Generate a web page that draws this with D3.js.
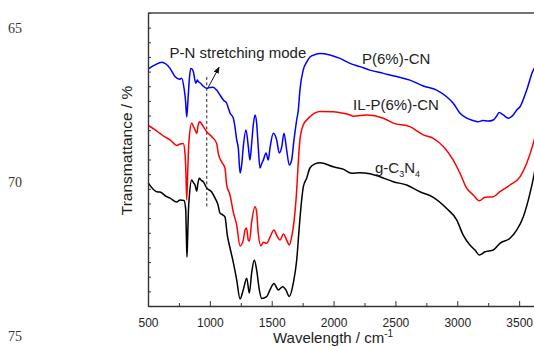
<!DOCTYPE html>
<html><head><meta charset="utf-8">
<script src="https://cdn.jsdelivr.net/npm/d3@7"></script>
<style>body{margin:0;background:#fff}svg{display:block}</style>
</head><body><div id="chart"></div>
<script>
// wavenumber (cm^-1) / transmittance (arbitrary %, offset spectra)
const seriesNames = ["P(6%)-CN", "IL-P(6%)-CN", "g-C3N4"];
const seriesColors = ["#0000ff", "#ff0000", "#000000"];
const bluePts = [[502,80.9],[557,82.3],[611,83.2],[645,82.6],[678,81.1],[718,78.3],[753,77.4],[772,77.7],[791,74.4],[803,70.3],[813,64.5],[823,70.3],[835,77.8],[845,81.1],[856,80.9],[866,80.0],[886,76.0],[898,77.1],[908,76.5],[920,76.2],[945,75.1],[974,74.3],[1001,74.6],[1025,74.7],[1055,73.7],[1082,72.0],[1109,70.3],[1136,69.2],[1149,67.6],[1163,65.9],[1189,64.2],[1203,61.1],[1217,56.7],[1230,53.9],[1244,45.4],[1257,48.1],[1270,54.3],[1292,60.1],[1311,54.3],[1324,49.8],[1338,55.6],[1351,61.8],[1365,65.2],[1378,62.5],[1391,54.3],[1405,47.1],[1421,48.8],[1432,49.8],[1454,52.2],[1472,49.8],[1486,53.9],[1513,59.0],[1540,56.7],[1561,52.2],[1581,54.3],[1599,59.0],[1621,53.2],[1642,48.1],[1661,49.8],[1680,56.7],[1702,63.5],[1715,66.9],[1728,73.7],[1755,80.6],[1783,83.3],[1809,85.0],[1850,85.8],[1890,86.2],[1971,85.7],[2052,84.5],[2133,82.8],[2213,81.7],[2294,80.5],[2402,79.4],[2510,78.3],[2617,77.1],[2725,75.1],[2833,73.7],[2914,71.4],[2967,69.2],[3022,65.8],[3076,64.1],[3129,63.3],[3167,62.9],[3207,63.3],[3248,63.1],[3291,63.5],[3313,64.5],[3339,66.0],[3372,65.2],[3412,64.1],[3452,65.2],[3480,66.9],[3507,68.0],[3561,73.7],[3614,80.5],[3630,81.5]];
const redPts = [[502,61.6],[548,60.4],[597,58.9],[637,57.7],[678,56.7],[732,54.8],[759,55.3],[785,55.5],[799,52.2],[807,44.7],[813,36.2],[819,43.0],[827,53.2],[834,57.8],[853,62.4],[866,61.4],[880,60.1],[894,58.9],[904,61.4],[915,62.9],[928,62.5],[947,61.2],[974,59.5],[1015,57.8],[1055,55.5],[1068,52.1],[1096,49.1],[1122,47.1],[1136,41.3],[1163,37.9],[1189,32.1],[1217,27.6],[1244,20.5],[1270,22.5],[1284,25.9],[1296,26.6],[1311,22.5],[1320,22.2],[1338,28.7],[1365,33.9],[1378,32.1],[1391,24.9],[1413,20.5],[1432,21.8],[1459,21.4],[1486,23.5],[1518,25.9],[1543,23.9],[1567,22.5],[1594,24.6],[1621,22.5],[1642,20.8],[1661,23.5],[1680,28.7],[1702,39.6],[1716,49.8],[1728,56.7],[1755,61.8],[1783,63.5],[1809,64.6],[1850,65.9],[1890,66.4],[1998,66.3],[2078,65.8],[2133,65.2],[2160,64.8],[2268,65.2],[2402,64.1],[2483,62.4],[2617,61.2],[2725,58.4],[2806,57.2],[2887,54.4],[2967,49.8],[3022,45.3],[3076,40.2],[3129,37.9],[3178,35.9],[3224,37.1],[3291,37.3],[3345,39.0],[3426,41.3],[3507,44.1],[3561,48.7],[3614,55.5],[3630,58.0]];
const blackPts = [[502,42.0],[570,39.0],[597,38.9],[651,37.3],[678,36.8],[732,35.5],[759,36.2],[791,36.0],[805,32.8],[810,24.2],[815,16.7],[821,24.2],[827,32.8],[834,37.3],[853,43.0],[868,42.0],[880,41.3],[894,39.2],[904,42.0],[915,43.6],[928,43.0],[947,42.4],[974,40.3],[1015,38.9],[1042,36.8],[1066,34.5],[1082,31.7],[1104,31.1],[1122,30.4],[1141,24.2],[1163,19.8],[1189,15.0],[1217,8.9],[1244,2.4],[1270,5.5],[1298,9.5],[1319,4.4],[1338,11.3],[1359,15.7],[1378,12.3],[1400,5.5],[1419,2.6],[1459,3.2],[1486,5.5],[1518,7.7],[1553,5.5],[1589,6.6],[1615,5.5],[1642,3.2],[1674,7.7],[1702,15.7],[1723,27.1],[1742,36.2],[1755,40.6],[1783,43.7],[1809,47.1],[1850,48.5],[1890,48.9],[1998,47.5],[2078,46.7],[2146,45.3],[2213,45.5],[2294,45.1],[2375,44.1],[2483,42.4],[2591,41.3],[2698,39.0],[2806,37.1],[2914,33.3],[2995,29.4],[3048,24.2],[3102,20.8],[3143,19.1],[3178,17.4],[3224,18.5],[3291,19.1],[3345,21.4],[3426,23.1],[3480,25.9],[3534,30.5],[3588,38.5],[3620,44.7],[3630,47.0]];
const xMajorTicks = [500, 1000, 1500, 2000, 2500, 3000, 3500];
const xMinorTicks = [750, 1250, 1750, 2250, 2750, 3250, 3750];
const yTicks = d3.range(0, 101, 5);
const pageNumbers = ["65", "70", "75"];

const W = 534, H = 346;
const svg = d3.select("#chart").append("svg").attr("width", W).attr("height", H)
  .style("font-family", "'Liberation Sans', Arial, sans-serif");
svg.append("rect").attr("width", W).attr("height", H).attr("fill", "#fff");

const x = d3.scaleLinear().domain([500, 4000]).range([148, 581]);
const y = d3.scaleLinear().domain([0, 100]).range([306, 13]);

// stray page numbers at left edge
const pny = [33, 187, 341];
svg.selectAll("text.pn").data(pageNumbers).join("text").attr("class", "pn")
  .attr("x", 8).attr("y", (d, i) => pny[i])
  .style("font-family", "'Liberation Serif', 'Times New Roman', serif")
  .style("font-size", "14px").attr("fill", "#333").text(d => d);

// curves
const line = d3.line().x(d => x(d[0])).y(d => y(d[1])).curve(d3.curveMonotoneX);
[bluePts, redPts, blackPts].forEach((pts, i) => {
  svg.append("path").datum(pts).attr("d", line).attr("fill", "none")
    .attr("stroke", seriesColors[i]).attr("stroke-width", 1.5).attr("stroke-linejoin", "round");
});

// axes
const axisColor = "#333";
const gx = svg.append("g").attr("transform", `translate(0,${y(0)})`)
  .call(d3.axisBottom(x).tickValues(xMajorTicks).tickSizeInner(-5).tickSizeOuter(0).tickPadding(12).tickFormat(d3.format("d")));
const gxm = svg.append("g").attr("transform", `translate(0,${y(0)})`)
  .call(d3.axisBottom(x).tickValues(xMinorTicks).tickSizeInner(-3).tickSizeOuter(0).tickFormat(""));
const gy = svg.append("g").attr("transform", `translate(${x(500)},0)`)
  .call(d3.axisLeft(y).tickValues(yTicks).tickSizeInner(-3).tickSizeOuter(0).tickFormat(""));
[gx, gxm, gy].forEach(g => {
  g.selectAll("path.domain").attr("stroke", axisColor).attr("stroke-width", 1.4);
  g.selectAll(".tick line").attr("stroke", axisColor).attr("stroke-width", 1);
  g.selectAll(".tick text").attr("fill", "#222").style("font-size", "12px")
    .style("font-family", "'Liberation Sans', Arial, sans-serif");
});
gxm.select("path.domain").remove();
// top frame
svg.append("line").attr("x1", x(500)).attr("x2", x(4000)).attr("y1", y(100)).attr("y2", y(100))
  .attr("stroke", "#444").attr("stroke-width", 1.6);

// axis titles
svg.append("text").attr("transform", `translate(132,${150.5}) rotate(-90)`)
  .attr("text-anchor", "middle").style("font-size", "15.5px").attr("fill", "#222")
  .text("Transmattance / %");
const xt = svg.append("text").attr("x", 273).attr("y", 343).style("font-size", "15px").attr("fill", "#222");
xt.append("tspan").text("Wavelength / cm");
xt.append("tspan").attr("dy", -6).style("font-size", "10px").text("-1");

// annotations
svg.append("line").attr("x1", x(975)).attr("x2", x(975)).attr("y1", y(78.2)).attr("y2", y(33.8))
  .attr("stroke", "#222").attr("stroke-width", 1).attr("stroke-dasharray", "3,2.5");
svg.append("defs").append("marker").attr("id", "ah").attr("viewBox", "0 0 10 10")
  .attr("refX", 9).attr("refY", 5).attr("markerWidth", 7).attr("markerHeight", 7)
  .attr("orient", "auto").append("path").attr("d", "M0,1 L10,5 L0,9 Z").attr("fill", "#111");
svg.append("line").attr("x1", x(985)).attr("y1", y(74.5)).attr("x2", x(1075)).attr("y2", y(81.5))
  .attr("stroke", "#111").attr("stroke-width", 1).attr("marker-end", "url(#ah)");

svg.append("text").attr("x", 169.5).attr("y", 58).style("font-size", "15px").attr("fill", "#222")
  .text("P-N stretching mode");
svg.append("text").attr("x", 362).attr("y", 64).style("font-size", "15px").attr("fill", "#222")
  .text(seriesNames[0]);
svg.append("text").attr("x", 353).attr("y", 110).style("font-size", "15px").attr("fill", "#222")
  .text(seriesNames[1]);
const g3 = svg.append("text").attr("x", 375).attr("y", 173).style("font-size", "15px").attr("fill", "#222");
g3.append("tspan").text("g-C");
g3.append("tspan").attr("dy", 4).style("font-size", "9px").text("3");
g3.append("tspan").attr("dy", -4).text("N");
g3.append("tspan").attr("dy", 4).style("font-size", "9px").text("4");
</script></body></html>
